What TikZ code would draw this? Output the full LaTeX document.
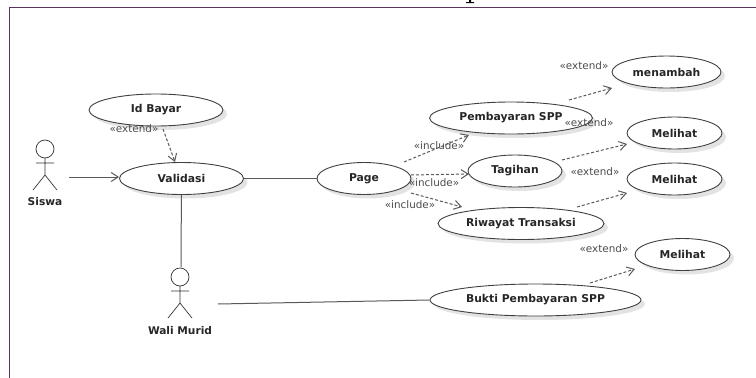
\documentclass[tikz,border=0pt]{standalone}
\usepackage{fontspec}
\setmainfont{DejaVu Sans}
\usetikzlibrary{shapes.geometric,shadows,arrows.meta}
\tikzset{
	usecase/.style={ellipse,draw=black!75,line width=.9pt,fill=white,inner sep=0pt,minimum height=32pt,font=\fontsize{10.8}{12}\selectfont\bfseries,text=black!85,
		drop shadow={shadow xshift=4pt,shadow yshift=-4pt,fill=black!18,opacity=.6}},
	stereo/.style={font=\fontsize{10.4}{12}\selectfont,text=black!70,inner sep=0pt},
	actorname/.style={font=\fontsize{10.6}{12}\selectfont\bfseries,text=black!85,inner sep=0pt},
	line/.style={draw=black!65,line width=1pt},
	open/.style={line,-{Straight Barb[length=7pt,width=9pt]}},
	dep/.style={open,dashed,dash pattern=on 3pt off 2pt},
	actor/.pic={
		\draw[black!80,line width=.7pt] (0,0) circle (9) (0,9) -- (0,26) (-9,14) -- (9,14) (-12,41) -- (0,26) -- (12,41);
	}
}
\begin{document}
\begin{tikzpicture}[x=1pt,y=-1pt]
	\useasboundingbox (0,0) rectangle (756,378);
	% frame
	\draw[black!50!violet!60!gray,line width=1.2pt] (9.5,378) -- (9.5,7.5) -- (756,7.5);
	\fill (469,0) rectangle (471,2) (466,2) rectangle (474,3);
	% use cases
	\node[usecase,minimum width=134pt] (idbayar) at (156,110) {Id Bayar};
	\node[usecase,minimum width=124pt] (validasi) at (181.5,178.5) {Validasi};
	\node[usecase,minimum width=94pt] (page) at (364,178.5) {Page};
	\node[usecase,minimum width=163pt] (pembayaran) at (511,118) {Pembayaran SPP};
	\node[usecase,minimum width=94pt] (tagihan) at (515,171) {Tagihan};
	\node[usecase,minimum width=166pt] (riwayat) at (521,223.5) {Riwayat Transaksi};
	\node[usecase,minimum width=211pt] (bukti) at (535.5,300) {Bukti Pembayaran SPP};
	\node[usecase,minimum width=109pt] (menambah) at (666.5,72) {menambah};
	\node[usecase,minimum width=95pt] (melihata) at (674.5,133) {Melihat};
	\node[usecase,minimum width=95pt] (melihatb) at (674.5,179) {Melihat};
	\node[usecase,minimum width=95pt] (melihatc) at (682.5,254.5) {Melihat};
	% actors
	\pic at (45,149) {actor};
	\pic at (180,277) {actor};
	\node[actorname] (siswa) at (45,202) {Siswa};
	\node[actorname] (wali) at (180,331) {Wali Murid};
	\coordinate (siswaout) at (69,177);
	\coordinate (walitop) at (181,267);
	\coordinate (waliout) at (218,304);
	% free ends of the dependencies
	\coordinate (a) at (163,129);
	\coordinate (b) at (404,162);
	\coordinate (c) at (411,175);
	\coordinate (d) at (411,193);
	\coordinate (e) at (569,100);
	\coordinate (f) at (562,160);
	\coordinate (g) at (577,207);
	\coordinate (h) at (590,283);
	\coordinate (ah) at (175,162);
	\coordinate (bh) at (469,135);
	\coordinate (ch) at (469,174);
	\coordinate (dh) at (462,207);
	\coordinate (eh) at (612,88);
	\coordinate (fh) at (627,144);
	\coordinate (gh) at (627,193);
	\coordinate (hh) at (635,269);
	% connectors
	\draw[open] (siswaout) -- (siswaout -| validasi.west);
	\draw[line] (validasi) -- (page);
	\draw[line] (validasi) -- (walitop);
	\draw[line] (waliout) -- (bukti.west);
	\foreach \from/\to in {a/ah,b/bh,c/ch,d/dh,e/eh,f/fh,g/gh,h/hh}
		\draw[dep] (\from) -- (\to);
	% stereotypes
	\node[stereo] (exta) at (134,129) {«extend»};
	\node[stereo] (extb) at (584,66) {«extend»};
	\node[stereo] (extc) at (589,123) {«extend»};
	\node[stereo] (extd) at (595,172) {«extend»};
	\node[stereo] (exte) at (604,249) {«extend»};
	\node[stereo] (inca) at (439,146) {«include»};
	\node[stereo] (incb) at (434,183) {«include»};
	\node[stereo] (incc) at (410,205) {«include»};
\end{tikzpicture}
\end{document}
